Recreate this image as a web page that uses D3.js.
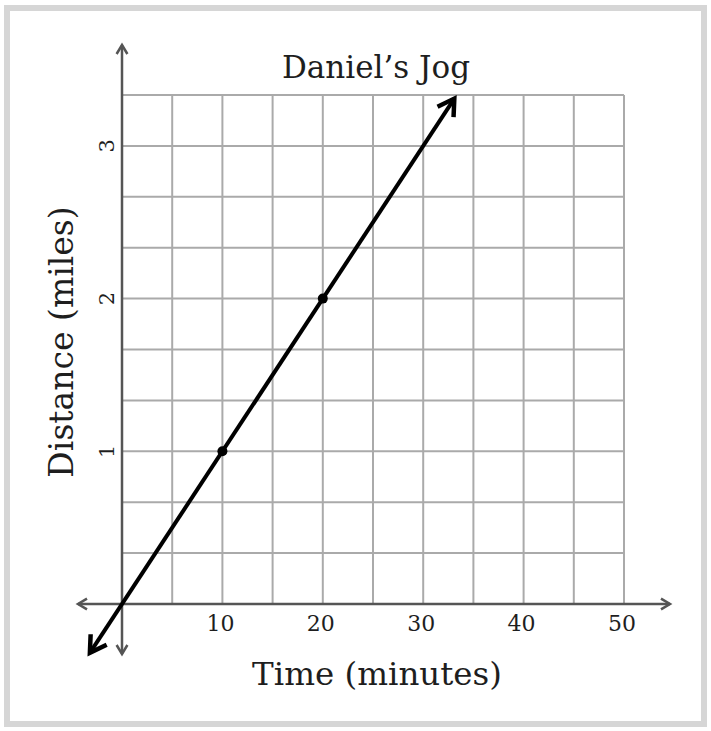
<!DOCTYPE html>
<html>
<head>
<meta charset="utf-8">
<script src="https://d3js.org/d3.v7.min.js"></script>
<style>
  body { margin: 0; background: #fff; }
  svg { display: block; }
  text { font-family: "DejaVu Serif", "Liberation Serif", serif; fill: #1e1e1e; }
</style>
</head>
<body>
<div id="chart"></div>
<script>
// data
var xTicks = [10, 20, 30, 40, 50];
var yTicks = [1, 2, 3];
var points = [[10, 1], [20, 2]];        // marked points (minutes, miles)
var lineEnds = [[-3.2, -0.32], [33.1, 3.31]]; // where the arrowed line stops
var title = "Daniel\u2019s Jog";
var xTitle = "Time (minutes)";
var yTitle = "Distance (miles)";

var w = 711, h = 731;
var svg = d3.select("#chart").append("svg")
  .attr("width", w)
  .attr("height", h);

// frame
svg.append("rect")
  .attr("x", 7).attr("y", 8)
  .attr("width", 697).attr("height", 716)
  .attr("fill", "#fff")
  .attr("stroke", "#d6d6d6")
  .attr("stroke-width", 6);

var x = d3.scaleLinear().domain([0, 50]).range([122, 624]);
var y = d3.scaleLinear().domain([0, 10 / 3]).range([604, 95]);

// grid, every 5 minutes and every third of a mile
var g = svg.append("g");
d3.range(1, 11).forEach(function(i) {
  g.append("line")
    .attr("x1", x(i * 5)).attr("x2", x(i * 5))
    .attr("y1", y(0)).attr("y2", y(10 / 3))
    .attr("stroke", "#aaa").attr("stroke-width", 2);
  g.append("line")
    .attr("x1", x(0)).attr("x2", x(50))
    .attr("y1", y(i / 3)).attr("y2", y(i / 3))
    .attr("stroke", "#aaa").attr("stroke-width", 2);
});

// axes with thin open arrows
var axisColor = "#555";
svg.append("line")
  .attr("x1", 78).attr("x2", 670)
  .attr("y1", y(0)).attr("y2", y(0))
  .attr("stroke", axisColor).attr("stroke-width", 2.5);
svg.append("line")
  .attr("x1", x(0)).attr("x2", x(0))
  .attr("y1", 45).attr("y2", 654)
  .attr("stroke", axisColor).attr("stroke-width", 2.5);

function chevron(px, py, angle, size, color, sw) {
  svg.append("path")
    .attr("d", "M" + (-size) + "," + (-size * 0.6) + " L0,0 L" + (-size) + "," + (size * 0.6))
    .attr("transform", "translate(" + px + "," + py + ") rotate(" + angle + ")")
    .attr("fill", "none")
    .attr("stroke", color)
    .attr("stroke-width", sw)
    .attr("stroke-linejoin", "miter");
}
chevron(670, y(0), 0, 9, axisColor, 2.5);
chevron(78, y(0), 180, 9, axisColor, 2.5);
chevron(x(0), 45, -90, 9, axisColor, 2.5);
chevron(x(0), 654, 90, 9, axisColor, 2.5);

// the jog line
var line = d3.line()
  .x(function(d) { return x(d[0]); })
  .y(function(d) { return y(d[1]); });
svg.append("path")
  .datum(lineEnds)
  .attr("d", line)
  .attr("fill", "none")
  .attr("stroke", "#000")
  .attr("stroke-width", 4);

var ang = Math.atan2(y(lineEnds[1][1]) - y(lineEnds[0][1]), x(lineEnds[1][0]) - x(lineEnds[0][0])) * 180 / Math.PI;
chevron(x(lineEnds[1][0]), y(lineEnds[1][1]), ang, 16, "#000", 4.5);
chevron(x(lineEnds[0][0]), y(lineEnds[0][1]), ang + 180, 16, "#000", 4.5);

svg.selectAll("circle.pt")
  .data(points)
  .enter()
  .append("circle")
  .attr("class", "pt")
  .attr("cx", function(d) { return x(d[0]); })
  .attr("cy", function(d) { return y(d[1]); })
  .attr("r", 5)
  .attr("fill", "#000");

// tick labels
svg.selectAll("text.xt")
  .data(xTicks)
  .enter()
  .append("text")
  .attr("class", "xt")
  .attr("x", function(d) { return x(d) - 2; })
  .attr("y", 631)
  .attr("text-anchor", "middle")
  .attr("font-size", 22)
  .text(function(d) { return d; });

svg.selectAll("text.yt")
  .data(yTicks)
  .enter()
  .append("text")
  .attr("class", "yt")
  .attr("transform", function(d) { return "translate(114," + y(d) + ") rotate(-90)"; })
  .attr("text-anchor", "middle")
  .attr("font-size", 21)
  .text(function(d) { return d; });

// titles
svg.append("text")
  .attr("x", 376).attr("y", 78)
  .attr("text-anchor", "middle")
  .attr("font-size", 31)
  .text(title);

svg.append("text")
  .attr("x", 377).attr("y", 685)
  .attr("text-anchor", "middle")
  .attr("font-size", 32.5)
  .text(xTitle);

svg.append("text")
  .attr("transform", "translate(73,342) rotate(-90)")
  .attr("text-anchor", "middle")
  .attr("font-size", 33)
  .text(yTitle);
</script>
</body>
</html>
